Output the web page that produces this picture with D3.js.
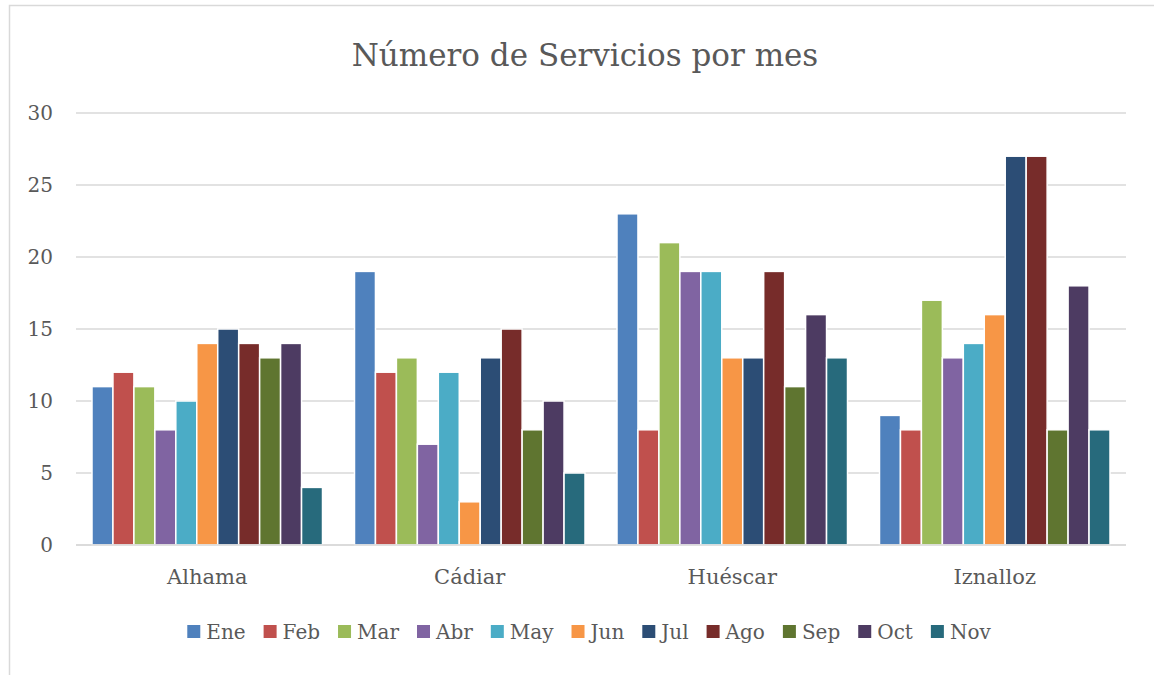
<!DOCTYPE html>
<html>
<head>
<meta charset="utf-8">
<script src="https://cdn.jsdelivr.net/npm/d3@7"></script>
<style>
  html, body { margin: 0; padding: 0; background: #fff; }
  text { font-family: "DejaVu Serif", serif; fill: #595959; }
</style>
</head>
<body>
<div id="chart"></div>
<script>
const categories = ['Alhama', 'Cádiar', 'Huéscar', 'Iznalloz'];
const months = ['Ene', 'Feb', 'Mar', 'Abr', 'May', 'Jun', 'Jul', 'Ago', 'Sep', 'Oct', 'Nov'];
const colors = ['#4F81BD', '#C0504D', '#9BBB59', '#8064A2', '#4BACC6', '#F79646',
                '#2C4D75', '#772C2A', '#5F7530', '#4D3B62', '#276A7C'];
// values per month, one entry per category
const ene = [11, 19, 23, 9];
const feb = [12, 12, 8, 8];
const mar = [11, 13, 21, 17];
const abr = [8, 7, 19, 13];
const may = [10, 12, 19, 14];
const jun = [14, 3, 13, 16];
const jul = [15, 13, 13, 27];
const ago = [14, 15, 19, 27];
const sep = [13, 8, 11, 8];
const oct = [14, 10, 16, 18];
const nov = [4, 5, 13, 8];
const yTicks = [0, 5, 10, 15, 20, 25, 30];

const series = [ene, feb, mar, abr, may, jun, jul, ago, sep, oct, nov];

const W = 1154, H = 675;
const svg = d3.select('#chart').append('svg')
  .attr('width', W)
  .attr('height', H);

// outer frame (only left and top visible in the shot)
svg.append('rect')
  .attr('x', 9.5).attr('y', 5.5)
  .attr('width', 1200).attr('height', 700)
  .attr('fill', 'none')
  .attr('stroke', '#d9d9d9')
  .attr('stroke-width', 1.5);

const plot = { left: 76, right: 1126, top: 113, bottom: 545 };

const x0 = d3.scaleBand().domain(categories).range([plot.left, plot.right]);
const groupPad = 16;
const x1 = d3.scaleBand().domain(months).range([groupPad, x0.bandwidth() - groupPad]);
const y = d3.scaleLinear().domain([0, 30]).range([plot.bottom, plot.top]);

// gridlines
svg.append('g')
  .selectAll('line')
  .data(yTicks)
  .join('line')
  .attr('x1', plot.left).attr('x2', plot.right)
  .attr('y1', d => y(d)).attr('y2', d => y(d))
  .attr('stroke', '#d9d9d9')
  .attr('stroke-width', 1.5);

// y labels
svg.append('g')
  .selectAll('text')
  .data(yTicks)
  .join('text')
  .attr('x', 53)
  .attr('y', d => y(d))
  .attr('dy', '0.35em')
  .attr('text-anchor', 'end')
  .style('font-size', '20px')
  .text(d => d);

// bars
const groups = svg.append('g')
  .selectAll('g')
  .data(categories)
  .join('g')
  .attr('transform', c => `translate(${x0(c)},0)`);

groups.selectAll('rect')
  .data((c, ci) => months.map((m, mi) => ({ m, mi, v: series[mi][ci] })))
  .join('rect')
  .attr('x', d => x1(d.m))
  .attr('width', x1.bandwidth())
  .attr('y', d => y(d.v))
  .attr('height', d => y(0) - y(d.v))
  .attr('fill', d => colors[d.mi])
  .attr('stroke', '#fff')
  .attr('stroke-width', 1.5);

// baseline on top of bars
svg.append('line')
  .attr('x1', plot.left).attr('x2', plot.right)
  .attr('y1', y(0)).attr('y2', y(0))
  .attr('stroke', '#d9d9d9')
  .attr('stroke-width', 1.5);

// category labels
svg.append('g')
  .selectAll('text')
  .data(categories)
  .join('text')
  .attr('x', c => x0(c) + x0.bandwidth() / 2)
  .attr('y', 584)
  .attr('text-anchor', 'middle')
  .style('font-size', '21px')
  .text(c => c);

// title
svg.append('text')
  .attr('x', 585)
  .attr('y', 66)
  .attr('text-anchor', 'middle')
  .style('font-size', '31px')
  .text('Número de Servicios por mes');

// legend, centred
const legend = svg.append('g');
const items = legend.selectAll('g')
  .data(months)
  .join('g');
items.append('rect')
  .attr('width', 13).attr('height', 13)
  .attr('y', -7)
  .attr('fill', (d, i) => colors[i]);
items.append('text')
  .attr('x', 19)
  .attr('dy', '0.35em')
  .style('font-size', '20px')
  .text(d => d);

let pos = 0;
items.each(function () {
  const g = d3.select(this);
  g.attr('transform', `translate(${pos},0)`);
  pos += 19 + g.select('text').node().getComputedTextLength() + 18;
});
const total = pos - 18;
legend.attr('transform', `translate(${589 - total / 2},632)`);
</script>
</body>
</html>
